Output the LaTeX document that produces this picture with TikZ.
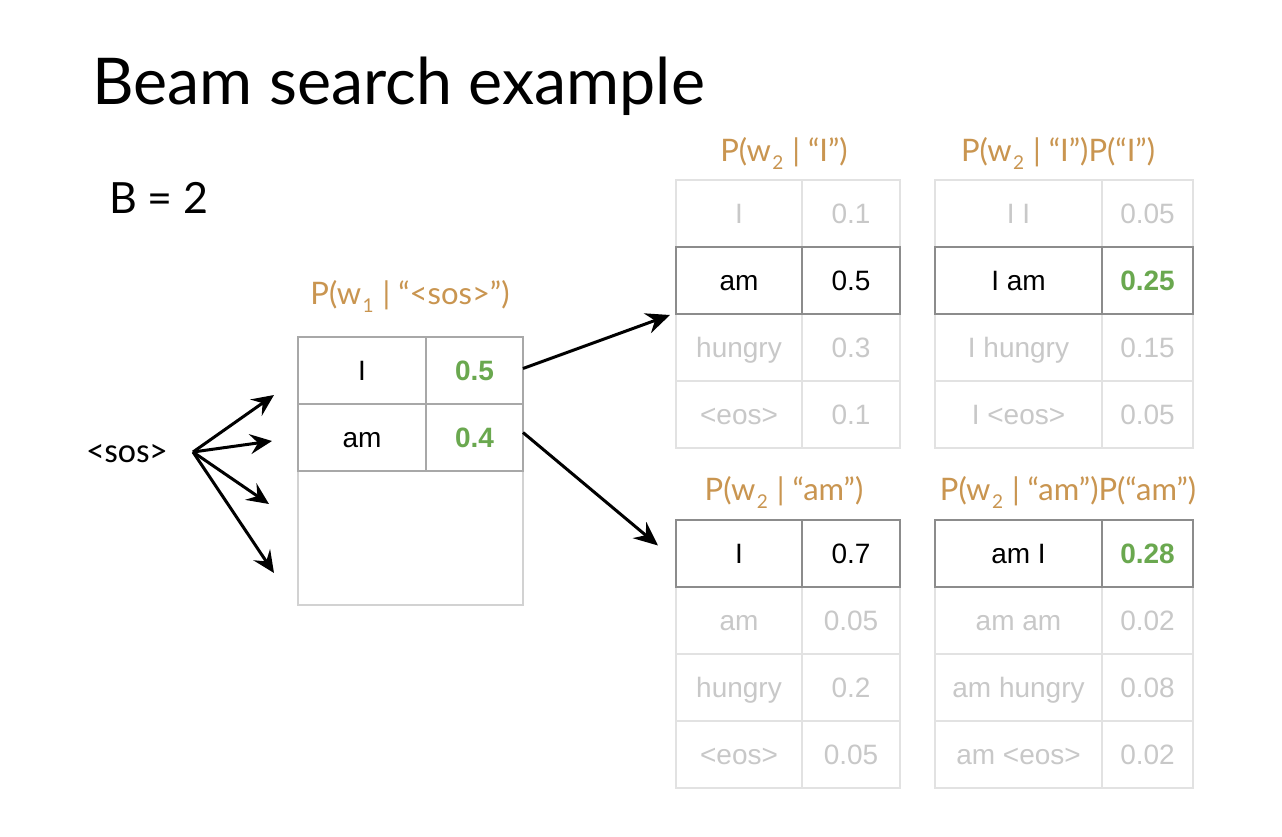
\documentclass[tikz,border=0pt]{standalone}
\usepackage{fontspec}
\setmainfont{Liberation Sans}
\newfontfamily\latofont{Lato}
\newfontfamily\calfont{Carlito}
\usetikzlibrary{arrows.meta}

\definecolor{hdr}{HTML}{C99550}
\definecolor{grn}{HTML}{6AA84F}
\definecolor{fadetext}{HTML}{C8C8C8}
\definecolor{fadeline}{HTML}{E2E2E2}
\definecolor{darkline}{HTML}{8C8C8C}
\definecolor{midline}{HTML}{A8A8A8}
\definecolor{softline}{HTML}{D2D2D2}

% subscript used in the probability headings
\newcommand\wsub[1]{\kern1.5pt\raisebox{-8pt}{\fontsize{19}{19}\selectfont #1}\kern1pt\relax}

\tikzset{
  cellbase/.style={anchor=north west, inner sep=0pt, outer sep=0pt,
    text height=19.5pt, text depth=0pt,
    font=\fontsize{28}{28}\selectfont, line width=1.5pt},
  fadecell/.style={cellbase, draw=fadeline, text=fadetext},
  keepcell/.style={cellbase, draw=darkline, text=black},
  firstcell/.style={cellbase, draw=midline, text=black},
  emptycell/.style={cellbase, draw=softline},
  win/.style={text=grn, font=\bfseries\fontsize{28}{28}\selectfont},
  hdrtext/.style={anchor=base, text=hdr, font=\latofont\fontsize{31}{31}\selectfont},
  bigarrow/.style={line width=3pt, -{Stealth[length=24pt,width=21pt,inset=8pt]}},
  fanarrow/.style={line width=3pt, -{Stealth[length=22pt,width=20pt,inset=8pt]}},
}

\begin{document}
\begin{tikzpicture}[x=1pt,y=-1pt]
\useasboundingbox[fill=white] (0,0) rectangle (1282,836);

% title and beam width
\node[anchor=base west, inner sep=0pt, font=\latofont\fontsize{64.5}{64.5}\selectfont] (title) at (92,104) {Beam search example};
\node[anchor=base west, inner sep=0pt, font=\latofont\fontsize{43}{43}\selectfont] (beam) at (109,213) {B = 2};

% start token and its fan of candidate arrows
\node[anchor=base west, inner sep=0pt, font=\calfont\fontsize{34.5}{34.5}\selectfont] (sos) at (87,462) {<sos>};
\coordinate (fan) at (193,452);
\coordinate (f1) at (274,395);
\coordinate (f2) at (272,441);
\coordinate (f3) at (269,504);
\coordinate (f4) at (274,573);
\foreach \t in {f1,f2,f3,f4} \draw[fanarrow] (fan) -- (\t);

% first step: P(w1 | <sos>)
\node[hdrtext] (h0) at (410,304) {P(w\wsub{1} | “<sos>”)};
\node[emptycell, minimum width=225pt, minimum height=134pt] (l3) at (298,471) {};
\node[firstcell, minimum width=128pt, minimum height=67pt] (l1w) at (298,337) {I};
\node[firstcell, minimum width=97pt, minimum height=67pt, win] (l1p) at (426,337) {0.5};
\node[firstcell, minimum width=128pt, minimum height=67pt] (l2w) at (298,404) {am};
\node[firstcell, minimum width=97pt, minimum height=67pt, win] (l2p) at (426,404) {0.4};

% second step after "I"
\node[hdrtext] (h1) at (784,161) {P(w\wsub{2} | “I”)};
\node[hdrtext] (h2) at (1058,161) {P(w\wsub{2} | “I”)P(“I”)};
\node[fadecell, minimum width=126pt, minimum height=67pt] (a1w) at (676,180) {I};
\node[fadecell, minimum width=98pt, minimum height=67pt] (a1p) at (802,180) {0.1};
\node[fadecell, minimum width=126pt, minimum height=67pt] (a3w) at (676,314) {hungry};
\node[fadecell, minimum width=98pt, minimum height=67pt] (a3p) at (802,314) {0.3};
\node[fadecell, minimum width=126pt, minimum height=67pt] (a4w) at (676,381) {<eos>};
\node[fadecell, minimum width=98pt, minimum height=67pt] (a4p) at (802,381) {0.1};
\node[keepcell, minimum width=126pt, minimum height=67pt] (a2w) at (676,247) {am};
\node[keepcell, minimum width=98pt, minimum height=67pt] (a2p) at (802,247) {0.5};

\node[fadecell, minimum width=167pt, minimum height=67pt] (b1w) at (935,180) {I I};
\node[fadecell, minimum width=91pt, minimum height=67pt] (b1p) at (1102,180) {0.05};
\node[fadecell, minimum width=167pt, minimum height=67pt] (b3w) at (935,314) {I hungry};
\node[fadecell, minimum width=91pt, minimum height=67pt] (b3p) at (1102,314) {0.15};
\node[fadecell, minimum width=167pt, minimum height=67pt] (b4w) at (935,381) {I <eos>};
\node[fadecell, minimum width=91pt, minimum height=67pt] (b4p) at (1102,381) {0.05};
\node[keepcell, minimum width=167pt, minimum height=67pt] (b2w) at (935,247) {I am};
\node[keepcell, minimum width=91pt, minimum height=67pt, win] (b2p) at (1102,247) {0.25};

% second step after "am"
\node[hdrtext] (h3) at (784,500) {P(w\wsub{2} | “am”)};
\node[hdrtext] (h4) at (1068,500) {P(w\wsub{2} | “am”)P(“am”)};
\node[fadecell, minimum width=126pt, minimum height=67pt] (c2w) at (676,587) {am};
\node[fadecell, minimum width=98pt, minimum height=67pt] (c2p) at (802,587) {0.05};
\node[fadecell, minimum width=126pt, minimum height=67pt] (c3w) at (676,654) {hungry};
\node[fadecell, minimum width=98pt, minimum height=67pt] (c3p) at (802,654) {0.2};
\node[fadecell, minimum width=126pt, minimum height=67pt] (c4w) at (676,721) {<eos>};
\node[fadecell, minimum width=98pt, minimum height=67pt] (c4p) at (802,721) {0.05};
\node[keepcell, minimum width=126pt, minimum height=67pt] (c1w) at (676,520) {I};
\node[keepcell, minimum width=98pt, minimum height=67pt] (c1p) at (802,520) {0.7};

\node[fadecell, minimum width=167pt, minimum height=67pt] (d2w) at (935,587) {am am};
\node[fadecell, minimum width=91pt, minimum height=67pt] (d2p) at (1102,587) {0.02};
\node[fadecell, minimum width=167pt, minimum height=67pt] (d3w) at (935,654) {am hungry};
\node[fadecell, minimum width=91pt, minimum height=67pt] (d3p) at (1102,654) {0.08};
\node[fadecell, minimum width=167pt, minimum height=67pt] (d4w) at (935,721) {am <eos>};
\node[fadecell, minimum width=91pt, minimum height=67pt] (d4p) at (1102,721) {0.02};
\node[keepcell, minimum width=167pt, minimum height=67pt] (d1w) at (935,520) {am I};
\node[keepcell, minimum width=91pt, minimum height=67pt, win] (d1p) at (1102,520) {0.28};

% expansion of the two kept hypotheses
\draw[bigarrow] ([yshift=2pt]l1p.east) -- ([xshift=-6pt,yshift=-1pt]a3w.north west);
\draw[bigarrow] ([yshift=5pt]l2p.east) -- ([xshift=-18pt,yshift=8pt]c1w.west);
\end{tikzpicture}
\end{document}
